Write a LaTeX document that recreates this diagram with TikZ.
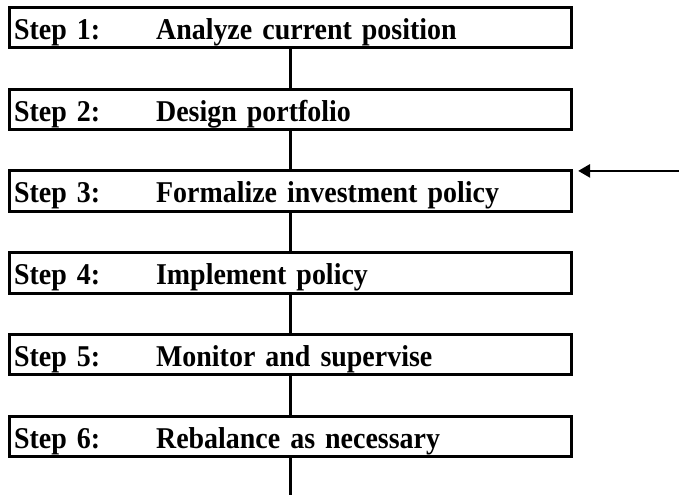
\documentclass[tikz,border=0pt]{standalone}
\usepackage{fontspec}
\setmainfont{Liberation Serif}
\newfontfamily\stepfont{Liberation Serif}[FakeStretch=0.925]
\usetikzlibrary{arrows.meta}

\tikzset{
  stepbox/.style={draw, line width=3pt, rectangle,
    minimum height=40.5pt, text width=553pt, inner xsep=4.5pt,
    text height=23.6pt, text depth=0pt, align=left,
    font=\fontsize{30.2}{32}\stepfont\bfseries},
  link/.style={line width=2.7pt},
  feed/.style={line width=2.7pt, -{Triangle[length=12pt,width=13pt]}}
}
\newcommand{\steptag}[1]{\makebox[142pt][l]{#1}}

\begin{document}
\begin{tikzpicture}[x=1pt,y=-1pt]
  \useasboundingbox (0,0) rectangle (679,495);

  \node[stepbox] (s1) at (290.6,27.75)  {\steptag{Step 1:}Analyze current position};
  \node[stepbox] (s2) at (290.6,109.45) {\steptag{Step 2:}Design portfolio};
  \node[stepbox] (s3) at (290.6,191.15) {\steptag{Step 3:}Formalize investment policy};
  \node[stepbox] (s4) at (290.6,272.85) {\steptag{Step 4:}Implement policy};
  \node[stepbox] (s5) at (290.6,354.55) {\steptag{Step 5:}Monitor and supervise};
  \node[stepbox] (s6) at (290.6,436.25) {\steptag{Step 6:}Rebalance as necessary};

  \draw[link] (s1.south) -- (s2.north);
  \draw[link] (s2.south) -- (s3.north);
  \draw[link] (s3.south) -- (s4.north);
  \draw[link] (s4.south) -- (s5.north);
  \draw[link] (s5.south) -- (s6.north);

  \coordinate (out) at (290.6,495);
  \draw[link] (s6.south) -- (out);

  \coordinate (src) at (679,170.9);
  \draw[feed] (src) -- ([xshift=5pt]s3.east |- src);
\end{tikzpicture}
\end{document}
